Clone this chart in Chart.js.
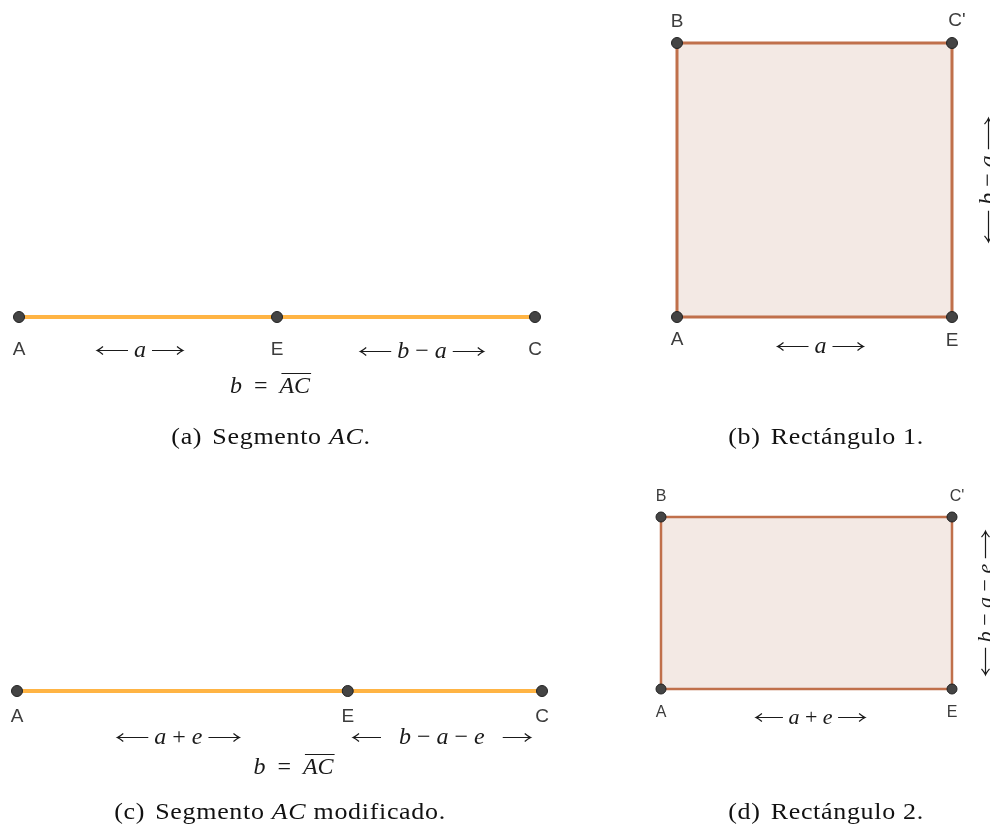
<!DOCTYPE html>
<html>
<head>
<meta charset="utf-8">
<script src="https://cdn.jsdelivr.net/npm/chart.js@4"></script>
<style>
  html, body { margin: 0; padding: 0; background: #fff; }
  .page { position: relative; width: 990px; height: 828px; overflow: hidden; }
  .page canvas { position: absolute; left: 0; top: 0; }
  .cap { position: absolute; transform: translate(-50%, -50%) scaleX(1.13); white-space: nowrap;
         font: 23px "Liberation Serif", serif; color: #111; letter-spacing: 0.6px; }
  .cap .t { margin-left: 9px; }
</style>
</head>
<body>
<div class="page">
  <canvas id="cA" width="990" height="828"></canvas>
  <canvas id="cB" width="990" height="828"></canvas>
  <canvas id="cC" width="990" height="828"></canvas>
  <canvas id="cD" width="990" height="828"></canvas>
  <div class="cap" style="left:271px; top:437px">(a)<span class="t">Segmento <i>AC</i>.</span></div>
  <div class="cap" style="left:826px; top:437px">(b)<span class="t">Rectángulo 1.</span></div>
  <div class="cap" style="left:280px; top:812px">(c)<span class="t">Segmento <i>AC</i> modificado.</span></div>
  <div class="cap" style="left:826px; top:812px">(d)<span class="t">Rectángulo 2.</span></div>
</div>
<script>
// lengths, in units where b = AC = 10
const B_LEN = 10;
const A1 = 5;      // a       (figs a, b)
const A2 = 6.3;    // a + e   (figs c, d)

const segNames = ['A', 'E', 'C'];
const segPos1 = [0, A1, B_LEN];
const segPos2 = [0, A2, B_LEN];

const rectNames = ['A', 'E', "C'", 'B'];
const rect1X = [0, A1, A1, 0];
const rect1Y = [0, 0, B_LEN - A1, B_LEN - A1];
const rect2X = [0, A2, A2, 0];
const rect2Y = [0, 0, B_LEN - A2, B_LEN - A2];

const ORANGE = '#ffb444';
const BROWN = '#c0704b';
const FILL = '#f3e9e4';
const DOT = '#444444';

const SANS = '19px "Liberation Sans", Arial, sans-serif';
const SANS_S = '16px "Liberation Sans", Arial, sans-serif';
const MI = 'italic 24px "Liberation Serif", serif';
const M = '24px "Liberation Serif", serif';
const MI_S = 'italic 22px "Liberation Serif", serif';
const M_S = '22px "Liberation Serif", serif';

// arrow runs: ['LA'|'RA', length]
function arrowRuns(inner, m, len) {
  return [['LA', len], [' ', m], ...inner, [' ', m], ['RA', len]];
}

function drawArrow(ctx, x, len, dir) {
  const y = -0.5;
  ctx.lineWidth = 1.2;
  ctx.beginPath();
  ctx.moveTo(x, y);
  ctx.lineTo(x + len, y);
  const tip = dir < 0 ? x : x + len;
  ctx.moveTo(tip - dir * 6, y - 4);
  ctx.quadraticCurveTo(tip - dir * 2.5, y - 1, tip, y);
  ctx.quadraticCurveTo(tip - dir * 2.5, y + 1, tip - dir * 6, y + 4);
  ctx.stroke();
}

function textLayer(items) {
  return {
    id: 'textLayer',
    afterDraw(chart) {
      const ctx = chart.ctx;
      const xs = chart.scales.x, ys = chart.scales.y;
      items.forEach(it => {
        ctx.save();
        ctx.translate(xs.getPixelForValue(it.x) + (it.dx || 0), ys.getPixelForValue(it.y) + (it.dy || 0));
        if (it.rot) ctx.rotate(it.rot);
        ctx.textBaseline = 'middle';
        ctx.fillStyle = it.color || '#1a1a1a';
        ctx.strokeStyle = it.color || '#1a1a1a';
        const widthOf = r => {
          if (r[0] === 'LA' || r[0] === 'RA') return r[1];
          ctx.font = r[1];
          return ctx.measureText(r[0]).width;
        };
        let w = 0;
        it.runs.forEach(r => { w += widthOf(r); });
        let x = -w / 2;
        it.runs.forEach(r => {
          const rw = widthOf(r);
          if (r[0] === 'LA' || r[0] === 'RA') {
            drawArrow(ctx, x, rw, r[0] === 'LA' ? -1 : 1);
          } else {
            ctx.font = r[1];
            ctx.fillText(r[0], x, 0);
            if (r[2]) {
              ctx.lineWidth = 1;
              ctx.beginPath();
              ctx.moveTo(x + 2, -13.5);
              ctx.lineTo(x + rw + 1, -13.5);
              ctx.stroke();
            }
          }
          x += rw;
        });
        ctx.restore();
      });
    }
  };
}

function pointSet(xs, ys, radius) {
  return {
    data: xs.map((x, i) => ({ x, y: ys[i] })),
    pointRadius: radius,
    pointBackgroundColor: DOT,
    pointBorderColor: '#222',
    pointBorderWidth: 1,
    showLine: false,
    clip: false
  };
}

function makeChart(id, pad, xMax, yMin, yMax, datasets, items) {
  return new Chart(document.getElementById(id), {
    type: 'scatter',
    data: { datasets },
    options: {
      responsive: false,
      animation: false,
      events: [],
      layout: { padding: pad },
      plugins: { legend: { display: false }, tooltip: { enabled: false } },
      scales: {
        x: { type: 'linear', min: 0, max: xMax, display: false },
        y: { type: 'linear', min: yMin, max: yMax, display: false }
      }
    },
    plugins: [textLayer(items)]
  });
}

function segmentChart(id, pad, pos, labelDy, math) {
  const zeros = pos.map(() => 0);
  const items = segNames.map((n, i) => ({ x: pos[i], y: 0, dy: labelDy, runs: [[n, SANS]], color: '#3c3c3c' }));
  makeChart(id, pad, B_LEN, -1, 1, [
    pointSet(pos, zeros, 5.5),
    {
      data: [{ x: 0, y: 0 }, { x: B_LEN, y: 0 }],
      showLine: true, borderColor: ORANGE, borderWidth: 4, pointRadius: 0, clip: false
    }
  ], items.concat(math));
}

function rectChart(id, pad, rx, ry, offs, font, dotR, stroke, math) {
  const w = rx[1], h = ry[2];
  const items = rectNames.map((n, i) => ({
    x: rx[i], y: ry[i], dx: offs[i][0], dy: offs[i][1], runs: [[n, font]], color: '#3c3c3c'
  }));
  makeChart(id, pad, w, 0, h, [
    pointSet(rx, ry, dotR),
    {
      data: rx.concat(rx[0]).map((x, i) => ({ x, y: ry.concat(ry[0])[i] })),
      showLine: true, borderColor: BROWN, borderWidth: stroke, borderJoinStyle: 'miter',
      pointRadius: 0, clip: false
    },
    {
      data: [{ x: 0, y: h }, { x: w, y: h }],
      showLine: true, borderWidth: 0, fill: 'origin', backgroundColor: FILL, pointRadius: 0
    }
  ], items.concat(math));
}

// (a) Segmento AC
segmentChart('cA', { left: 19, right: 455, top: 307, bottom: 501 }, segPos1, 33, [
  { x: A1 / 2, y: 0, dx: -8, dy: 34, runs: arrowRuns([['a', MI]], M, 31) },
  { x: (A1 + B_LEN) / 2, y: 0, dx: 16, dy: 35, runs: arrowRuns([['b', MI], [' − ', M], ['a', MI]], M, 31) },
  { x: B_LEN / 2, y: 0, dx: -7, dy: 70, runs: [['b', MI], ['  =  ', M], ['AC', MI, true]] }
]);

// (b) Rectángulo 1
rectChart('cB', { left: 677, right: 38, top: 43, bottom: 511 }, rect1X, rect1Y,
  [[0, 23], [0, 24], [5, -22], [0, -21]], SANS, 5.5, 3, [
  { x: A1 / 2, y: 0, dx: 6, dy: 30, runs: arrowRuns([['a', MI]], M, 31) },
  { x: A1, y: (B_LEN - A1) / 2, dx: 37, dy: 0, rot: -Math.PI / 2, runs: arrowRuns([['b', MI], [' − ', M], ['a', MI]], M, 31) }
]);

// (c) Segmento AC modificado
segmentChart('cC', { left: 17, right: 448, top: 681, bottom: 127 }, segPos2, 26, [
  { x: A2 / 2, y: 0, dx: -4, dy: 47, runs: arrowRuns([['a', MI], [' + ', M], ['e', MI]], M, 31) },
  { x: (A2 + B_LEN) / 2, y: 0, dx: -3, dy: 47, runs: arrowRuns([['  ', M], ['b', MI], [' − ', M], ['a', MI], [' − ', M], ['e', MI], ['  ', M]], M, 28) },
  { x: B_LEN / 2, y: 0, dx: 14, dy: 77, runs: [['b', MI], ['  =  ', M], ['AC', MI, true]] }
]);

// (d) Rectángulo 2
rectChart('cD', { left: 661, right: 38, top: 517, bottom: 139 }, rect2X, rect2Y,
  [[0, 24], [0, 24], [5, -20], [0, -20]], SANS_S, 5, 2.5, [
  { x: A2 / 2, y: 0, dx: 4, dy: 29, runs: arrowRuns([['a', MI_S], [' + ', M_S], ['e', MI_S]], M_S, 27) },
  { x: A2, y: (B_LEN - A2) / 2, dx: 34, dy: 0, rot: -Math.PI / 2, runs: arrowRuns([['b', MI_S], [' − ', M_S], ['a', MI_S], [' − ', M_S], ['e', MI_S]], M_S, 27) }
]);
</script>
</body>
</html>
